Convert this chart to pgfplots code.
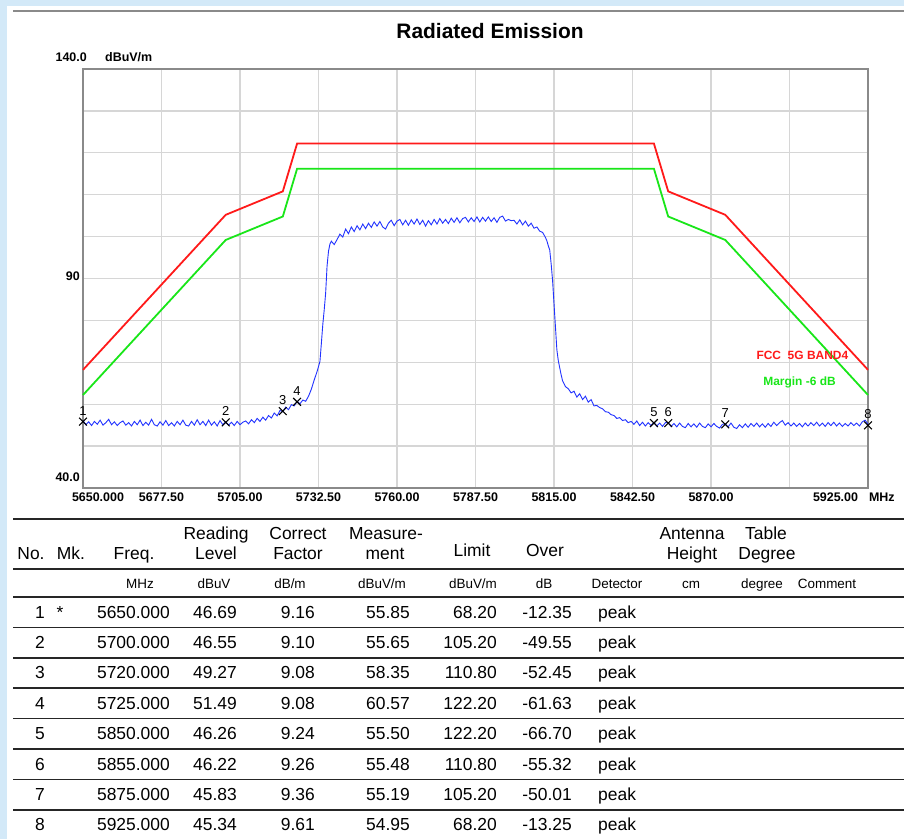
\documentclass[border=0pt]{standalone}
\usepackage{fontspec}
\setmainfont{Liberation Sans}
\usepackage{pgfplots}
\pgfplotsset{compat=1.18}
\definecolor{bgblue}{HTML}{D3E9F8}
\definecolor{limred}{HTML}{FF1A1A}
\definecolor{margreen}{HTML}{19E619}
\definecolor{trace}{HTML}{2233FF}
\definecolor{framec}{HTML}{8A8A8A}
\definecolor{gridc}{HTML}{D6D6D6}
\newcommand\fs[1]{\fontsize{#1}{#1}\selectfont}

\begin{document}
\begin{tikzpicture}[x=1bp,y=-1bp]
\useasboundingbox (0,0) rectangle (904,839);
\fill[bgblue] (0,0) rectangle (904,839);
\fill[white] (7,6) rectangle (904,839);
\draw[framec, line width=2bp] (13,10.5) -- (904,10.5);
\node[font=\fs{21}\bfseries] at (490,31) {Radiated Emission};

\begin{axis}[
  at={(83bp,-488bp)}, anchor=south west,
  width=785bp, height=419bp, scale only axis,
  xmin=5650, xmax=5925, ymin=40, ymax=140,
  xtick={5650,5677.5,5705,5732.5,5760,5787.5,5815,5842.5,5870,5897.5,5925},
  xticklabels={\makebox[0pt][l]{\hspace*{-11bp}5650.000},5677.50,5705.00,5732.50,5760.00,5787.50,5815.00,5842.50,5870.00,{},\makebox[0pt][r]{5925.00\hspace*{10bp}}\makebox[0pt][l]{\hspace*{1bp}MHz}},
  ytick={40,50,...,140},
  yticklabels={{},{},{},{},{},90,{},{},{},{},{}},
  grid=major, major grid style={gridc, line width=1.3bp},
  axis line style={framec, line width=2bp},
  major tick length=0pt,
  tick label style={font=\fs{12.5}\bfseries},
  xticklabel style={anchor=north, inner sep=0pt, yshift=-4.5bp},
  yticklabel style={anchor=east, inner sep=0pt, xshift=-3bp, yshift=2bp},
  clip=false,
]
% FCC limit
\addplot[limred, line width=1.8bp] coordinates {
  (5650,68.2) (5700,105.2) (5720,110.8) (5725,122.2)
  (5850,122.2) (5855,110.8) (5875,105.2) (5925,68.2)};
% margin -6 dB
\addplot[margreen, line width=1.8bp] coordinates {
  (5650,62.2) (5700,99.2) (5720,104.8) (5725,116.2)
  (5850,116.2) (5855,104.8) (5875,99.2) (5925,62.2)};
% measured trace
\addplot[trace, line width=0.9bp] coordinates {
(5650,56.1) (5651,55.1) (5652,55.8) (5653,54.9) (5654,55.9) (5655,55.2) (5656,56.2) (5657,55.0) (5658,55.6) (5659,56.4)
(5660,55.1) (5661,55.8) (5662,54.9) (5663,55.6) (5664,56.0) (5665,55.0) (5666,55.6) (5667,54.8) (5668,55.9) (5669,55.1)
(5670,56.2) (5671,54.9) (5672,55.7) (5673,55.0) (5674,56.4) (5675,55.1) (5676,54.8) (5677,55.8) (5678,55.0) (5679,56.1)
(5680,54.9) (5681,55.6) (5682,54.8) (5683,55.9) (5684,55.1) (5685,56.2) (5686,55.0) (5687,54.8) (5688,55.9) (5689,55.0)
(5690,56.3) (5691,55.1) (5692,55.9) (5693,54.9) (5694,56.2) (5695,55.0) (5696,55.8) (5697,54.8) (5698,56.1) (5699,55.1)
(5700,55.8) (5701,55.0) (5702,55.7) (5703,54.9) (5704,55.9) (5705,55.1) (5706,55.7) (5707,56.0) (5708,55.3) (5709,56.3)
(5710,55.6) (5711,56.6) (5712,55.9) (5713,56.9) (5714,56.2) (5715,57.3) (5716,56.7) (5717,57.9) (5718,57.2) (5719,58.5)
(5720,58.2) (5721,59.3) (5722,58.7) (5723,59.9) (5724,59.6) (5725,60.7) (5726,60.1) (5727,61.0) (5728,60.7) (5729,61.9)
(5730,63.6) (5731,65.8) (5732,67.8) (5732.5,69.0) (5733,70.2) (5733.5,74.5) (5734,79.0) (5734.5,82.5) (5735,86.5) (5735.5,93.0)
(5736,96.5) (5736.5,98.2) (5737,98.9) (5738,98.1) (5739,99.3) (5740,100.6) (5741,99.9) (5742,101.8) (5743,100.7) (5744,102.3)
(5745,101.2) (5746,102.6) (5747,101.6) (5748,103.0) (5749,101.9) (5750,103.2) (5751,102.2) (5752,103.5) (5753,102.5) (5754,103.6)
(5755,102.3) (5756,101.8) (5757,103.2) (5758,103.9) (5759,102.6) (5760,103.7) (5761,104.1) (5762,102.8) (5763,103.9) (5764,102.7)
(5765,104.0) (5766,103.0) (5767,104.2) (5768,102.9) (5769,103.9) (5770,102.5) (5771,103.8) (5772,102.8) (5773,104.1) (5774,103.0)
(5775,104.3) (5776,103.2) (5777,104.1) (5778,103.1) (5779,104.4) (5780,103.4) (5781,104.5) (5782,103.3) (5783,104.3) (5784,104.6)
(5785,103.5) (5786,104.5) (5787,103.6) (5788,104.7) (5789,103.5) (5790,104.6) (5791,103.7) (5792,104.7) (5793,103.6) (5794,104.5)
(5795,103.4) (5796,104.6) (5797,104.9) (5798,103.7) (5799,104.1) (5800,103.8) (5801,103.9) (5802,103.0) (5803,104.0) (5804,102.8)
(5805,103.7) (5806,102.5) (5807,103.2) (5808,102.0) (5809,102.3) (5810,101.3) (5811,101.0) (5812,99.8) (5812.5,99.0) (5813,97.8)
(5813.5,96.8) (5814,93.5) (5814.5,89.5) (5815,84.0) (5815.5,78.5) (5816,73.0) (5816.5,70.4) (5817,68.7) (5817.5,67.0) (5818,65.6)
(5819,64.2) (5820,63.7) (5821,62.7) (5822,63.1) (5823,61.7) (5824,62.5) (5825,61.1) (5826,61.9) (5827,60.5) (5828,61.1)
(5829,59.6) (5830,59.7) (5831,59.2) (5832,58.9) (5833,58.2) (5834,58.1) (5835,57.5) (5836,57.3) (5837,56.6) (5838,56.8)
(5839,56.1) (5840,56.3) (5841,55.6) (5842,55.9) (5843,55.2) (5844,56.0) (5845,54.9) (5846,55.7) (5847,54.8) (5848,55.6)
(5849,54.9) (5850,55.7) (5851,54.8) (5852,55.5) (5853,54.7) (5854,55.6) (5855,55.6) (5856,54.7) (5857,55.4) (5858,54.6)
(5859,55.5) (5860,54.7) (5861,54.4) (5862,55.4) (5863,54.6) (5864,55.3) (5865,54.5) (5866,55.5) (5867,54.7) (5868,54.4)
(5869,55.3) (5870,54.6) (5871,55.4) (5872,54.7) (5873,54.3) (5874,55.2) (5875,55.3) (5876,54.6) (5877,55.5) (5878,54.5)
(5879,54.2) (5880,55.1) (5881,54.4) (5882,55.3) (5883,54.5) (5884,55.4) (5885,54.7) (5886,55.5) (5887,54.6) (5888,55.3)
(5889,54.5) (5890,55.4) (5891,54.7) (5892,55.7) (5893,54.9) (5894,55.6) (5895,56.1) (5896,55.0) (5897,55.6) (5898,54.8)
(5899,55.5) (5900,54.7) (5901,55.4) (5902,54.6) (5903,55.5) (5904,54.8) (5905,55.6) (5906,54.9) (5907,55.7) (5908,54.8)
(5909,55.5) (5910,54.7) (5911,55.6) (5912,54.9) (5913,55.7) (5914,54.8) (5915,55.5) (5916,54.7) (5917,55.4) (5918,54.8)
(5919,55.6) (5920,54.9) (5921,55.5) (5922,54.8) (5923,55.8) (5924,56.2) (5925,55.2)};
% markers
\addplot[only marks, mark=x, mark size=5.5bp, mark options={black, line width=1.1bp},
  nodes near coords, point meta=explicit symbolic,
  nodes near coords style={font=\fs{13}, anchor=south, inner sep=0pt, yshift=6bp}]
  coordinates {(5650,55.85)[1] (5700,55.65)[2] (5720,58.35)[3] (5725,60.57)[4]
               (5850,55.50)[5] (5855,55.48)[6] (5875,55.19)[7] (5925,54.95)[8]};
\node[font=\fs{12}\bfseries, text=limred] at (axis cs:5902,71.6) {FCC~~5G BAND4};
\node[font=\fs{12}\bfseries, text=margreen] at (axis cs:5901,65.2) {Margin -6 dB};
\end{axis}

\node[anchor=east, inner sep=0pt, font=\fs{12.5}\bfseries] at (87,57) {140.0};
\node[anchor=west, inner sep=0pt, font=\fs{12.5}\bfseries] at (105,57) {dBuV/m};
\node[anchor=east, inner sep=0pt, font=\fs{12.5}\bfseries] at (80,477) {40.0};

% table rules
\foreach \yy in {519,569,597,627.4,657.8,688.2,718.6,749,779.4,809.8}
  \draw[black!85, line width=1.6bp] (13,\yy) -- (904,\yy);

% header
\begin{scope}[every node/.style={anchor=base, inner sep=0pt, font=\fs{17.5}}]
\node at (31,559) {No.};
\node at (71,559) {Mk.};
\node at (134,559) {Freq.};
\node at (216,539) {Reading};  \node at (216,559) {Level};
\node at (298,539) {Correct};  \node at (298,559) {Factor};
\node at (386,539) {Measure-}; \node at (385,559) {ment};
\node at (472,556) {Limit};
\node at (545,556) {Over};
\node at (692,539) {Antenna};  \node at (692,559) {Height};
\node at (766,539) {Table};    \node at (767,559) {Degree};
\end{scope}
\begin{scope}[every node/.style={anchor=base, inner sep=0pt, font=\fs{13.5}}]
\node at (140,588) {MHz};
\node at (214,588) {dBuV};
\node at (290,588) {dB/m};
\node at (382,588) {dBuV/m};
\node at (473,588) {dBuV/m};
\node at (544,588) {dB};
\node at (617,588) {Detector};
\node at (691,588) {cm};
\node at (762,588) {degree};
\node at (827,588) {Comment};
\end{scope}

% rows
\begin{scope}[every node/.style={inner sep=0pt, font=\fs{17.5}}]
\foreach \n/\mk/\f/\r/\c/\m/\l/\o [count=\i from 0] in {
  1/*/5650.000/46.69/9.16/55.85/68.20/-12.35,
  2/{}/5700.000/46.55/9.10/55.65/105.20/-49.55,
  3/{}/5720.000/49.27/9.08/58.35/110.80/-52.45,
  4/{}/5725.000/51.49/9.08/60.57/122.20/-61.63,
  5/{}/5850.000/46.26/9.24/55.50/122.20/-66.70,
  6/{}/5855.000/46.22/9.26/55.48/110.80/-55.32,
  7/{}/5875.000/45.83/9.36/55.19/105.20/-50.01,
  8/{}/5925.000/45.34/9.61/54.95/68.20/-13.25}{
  \pgfmathsetmacro\yb{618+30.4*\i}
  \node[anchor=base] at (40,\yb) {\n};
  \node[anchor=base, font=\fs{17.5}] at (60,\yb) {\mk};
  \node[anchor=base east] at (170,\yb) {\f};
  \node[anchor=base east] at (237,\yb) {\r};
  \node[anchor=base east] at (315,\yb) {\c};
  \node[anchor=base east] at (410,\yb) {\m};
  \node[anchor=base east] at (497,\yb) {\l};
  \node[anchor=base east] at (572,\yb) {\o};
  \node[anchor=base west] at (598,\yb) {peak};
}
\end{scope}
\end{tikzpicture}
\end{document}
